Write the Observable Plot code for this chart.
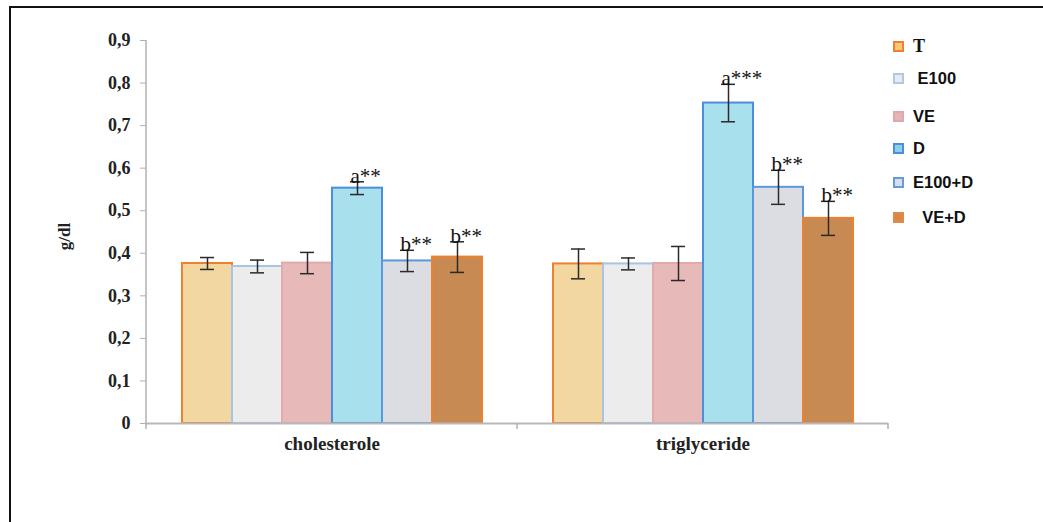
<!DOCTYPE html>
<html>
<head>
<meta charset="utf-8">
<script src="https://cdn.jsdelivr.net/npm/d3@7"></script>
<script src="https://cdn.jsdelivr.net/npm/@observablehq/plot@0.6"></script>
<style>
  html, body { margin: 0; padding: 0; background: #fff; overflow: hidden; }
  #wrap { position: relative; width: 1043px; height: 522px; overflow: hidden; }
  #frame { position: absolute; left: 9px; top: 6px; width: 1100px; height: 600px; border: 2px solid #111; box-sizing: border-box; pointer-events: none; }
  #chart { position: absolute; left: 0; top: 0; }
  #legend { position: absolute; left: 893px; top: 30px; font-family: "Liberation Sans", Arial, sans-serif; font-weight: bold; font-size: 16.5px; color: #111; }
  .item { position: absolute; left: 0; height: 20px; white-space: pre; display: flex; align-items: center; }
  .sw { width: 7px; height: 7px; border: 2px solid; margin-right: 9px; flex: none; }
  .serif { font-family: "Liberation Serif", "Times New Roman", serif; font-size: 18px; }
</style>
</head>
<body>
<div id="wrap">
  <div id="chart"></div>
  <div id="legend"></div>
  <div id="frame"></div>
</div>
<script>
const categories = ["cholesterole", "triglyceride"];
const groups = ["T", "E100", "VE", "D", "E100+D", "VE+D"];
const cholMeans = [0.376, 0.369, 0.377, 0.553, 0.382, 0.391];
const cholErr = [0.014, 0.015, 0.025, 0.015, 0.025, 0.036];
const trigMeans = [0.375, 0.375, 0.376, 0.753, 0.555, 0.482];
const trigErr = [0.035, 0.014, 0.040, 0.044, 0.040, 0.040];
const cholLabels = ["", "", "", "a**", "b**", "b**"];
const trigLabels = ["", "", "", "a***", "b**", "b**"];
const legendLabels = ["T", " E100", "VE", "D", "E100+D", "  VE+D"];
const yTicks = [0, 0.1, 0.2, 0.3, 0.4, 0.5, 0.6, 0.7, 0.8, 0.9];

const fills = ["#f2d7a0", "#ececec", "#e8b9b9", "#a9e0ee", "#dcdde3", "#c68a52"];
const strokes = ["#ee8030", "#a9c3e6", "#e4aaaa", "#4a8edc", "#5b97dc", "#ee8030"];
const legendFills = ["#f5c97a", "#e3ebf3", "#e6b4b4", "#8ccfe8", "#d4dff0", "#d98646"];
const legendStrokes = ["#ee8030", "#b4c7e0", "#dcaaaa", "#4a8edc", "#6a9ad6", "#e08a4a"];

const rows = [];
categories.forEach((c, ci) => {
  const means = ci === 0 ? cholMeans : trigMeans;
  const errs = ci === 0 ? cholErr : trigErr;
  const labs = ci === 0 ? cholLabels : trigLabels;
  groups.forEach((g, gi) => {
    rows.push({category: c, group: g, gi, value: means[gi], err: errs[gi], label: labs[gi]});
  });
});

const fmt = d => d === 0 ? "0" : d.toFixed(1).replace(".", ",");

const plot = Plot.plot({
  width: 1043,
  height: 522,
  marginLeft: 146,
  marginRight: 155,
  marginTop: 40,
  marginBottom: 99,
  style: {background: "transparent", overflow: "visible"},
  fx: {domain: categories, padding: 0, label: null},
  x: {domain: groups, paddingInner: 0, paddingOuter: 0.71, axis: null},
  y: {domain: [0, 0.9], label: null},
  marks: [
    Plot.axisY({ticks: yTicks, tickFormat: fmt, tickSize: 6, tickPadding: 10, stroke: "#b0b0b0",
      fontFamily: "Liberation Serif, serif", fontWeight: "bold", fontSize: 18, fill: "#222", label: null}),
    Plot.axisFx({anchor: "bottom", tickSize: 0, tickPadding: 13, fontFamily: "Liberation Serif, serif", fontWeight: "bold", fontSize: 19, fill: "#222", label: null}),
    Plot.barY(rows, {fx: "category", x: "group", y: "value",
      fill: d => fills[d.gi], stroke: d => strokes[d.gi], strokeWidth: 2}),
    Plot.ruleY([0], {stroke: "#b8b8b8", strokeWidth: 2}),
    Plot.ruleX(rows, {fx: "category", x: "group", y1: d => d.value - d.err, y2: d => d.value + d.err, stroke: "#2a2a2a", strokeWidth: 1.5}),
    Plot.tickY(rows, {fx: "category", x: "group", y: d => d.value + d.err, stroke: "#2a2a2a", strokeWidth: 1.5, insetLeft: 18, insetRight: 18}),
    Plot.tickY(rows, {fx: "category", x: "group", y: d => d.value - d.err, stroke: "#2a2a2a", strokeWidth: 1.5, insetLeft: 18, insetRight: 18}),
    Plot.text(rows.filter(d => d.label), {fx: "category", x: "group", y: d => d.value + d.err, text: "label",
      textAnchor: "start", lineAnchor: "bottom", dx: -7, dy: 1, fontFamily: "Liberation Serif, serif", fontSize: 21, fill: "#111"})
  ],
  color: {type: "identity"}
});

document.getElementById("chart").appendChild(plot);

// axis lines and boundary ticks derived from the scales
const svg = d3.select(plot);
const ys = plot.scale("y");
const fxs = plot.scale("fx");
const y0 = ys.apply(0), y9 = ys.apply(0.9);
const left = fxs.range[0], right = fxs.range[1];
svg.append("line").attr("x1", left).attr("x2", left).attr("y1", y9).attr("y2", y0 + 6)
  .attr("stroke", "#b0b0b0").attr("stroke-width", 1.5);
const bw = (right - left) / categories.length;
for (let i = 1; i <= categories.length; i++) {
  const x = left + i * bw;
  svg.append("line").attr("x1", x).attr("x2", x).attr("y1", y0).attr("y2", y0 + 6)
    .attr("stroke", "#b0b0b0").attr("stroke-width", 1.5);
}
// y axis title
svg.append("text").attr("transform", `translate(70,${(y0 + y9) / 2 + 5}) rotate(-90)`)
  .attr("text-anchor", "middle").attr("font-family", "Liberation Serif, serif")
  .attr("font-weight", "bold").attr("font-size", 17).attr("fill", "#222").text("g/dl");

// legend
const legendY = [46, 78, 116, 148, 182, 217];
const lg = document.getElementById("legend");
legendLabels.forEach((t, i) => {
  const it = document.createElement("div");
  it.className = "item";
  it.style.top = (legendY[i] - 30 - 10) + "px";
  const sw = document.createElement("div");
  sw.className = "sw";
  sw.style.background = legendFills[i];
  sw.style.borderColor = legendStrokes[i];
  const tx = document.createElement("span");
  tx.textContent = t;
  if (i === 0) tx.className = "serif";
  it.appendChild(sw); it.appendChild(tx);
  lg.appendChild(it);
});
</script>
</body>
</html>
